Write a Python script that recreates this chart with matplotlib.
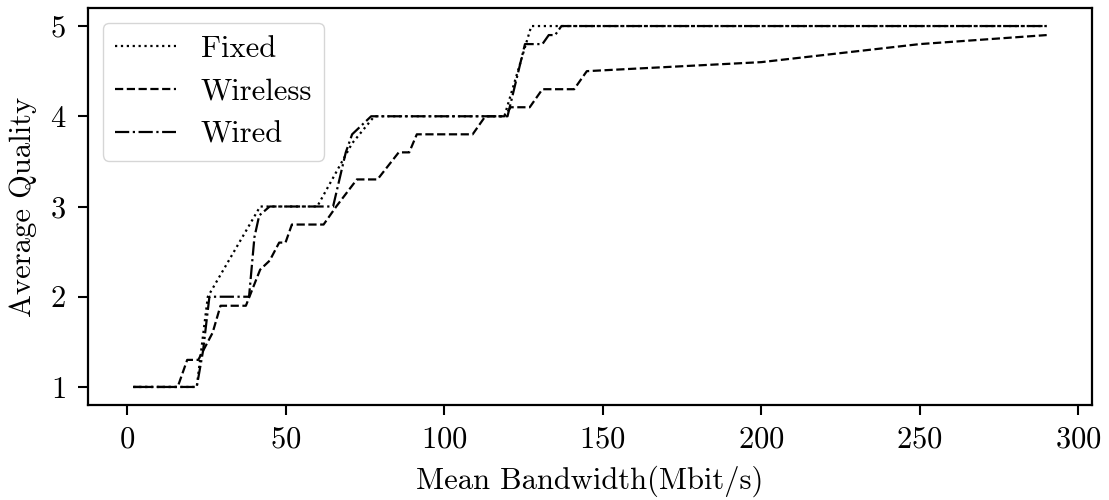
import matplotlib
matplotlib.use("Agg")
import matplotlib.pyplot as plt

plt.rcParams['font.family'] = ['cmr10', 'DejaVu Serif']
plt.rcParams['mathtext.fontset'] = 'cm'
plt.rcParams['axes.formatter.use_mathtext'] = True
plt.rcParams['font.size'] = 22

# Fixed access
fixed_x = [2, 22, 25.5, 42, 60, 71, 78, 119, 127.5, 290]
fixed_y = [1, 1, 2, 3, 3, 3.7, 4, 4, 5, 5]

# Wireless access
wireless_x = [2, 16, 19, 22.5, 27, 29.5, 37.5, 42, 45, 48, 50, 52, 62, 66,
              72.5, 79, 85.7, 89, 91.4, 109, 113, 119, 121, 127, 131, 141,
              145, 200, 250, 290]
wireless_y = [1, 1, 1.3, 1.3, 1.6, 1.9, 1.9, 2.3, 2.4, 2.6, 2.6, 2.8, 2.8, 3.0,
              3.3, 3.3, 3.6, 3.6, 3.8, 3.8, 4.0, 4.0, 4.1, 4.1, 4.3, 4.3,
              4.5, 4.6, 4.8, 4.9]

# Wired access
wired_x = [2, 22, 24, 26, 38.5, 40.2, 41.7, 45, 65, 69, 71, 77, 120, 125.5,
           131, 133, 135, 137, 290]
wired_y = [1, 1, 1.4, 2, 2, 2.66, 2.9, 3, 3, 3.6, 3.8, 4, 4, 4.8,
           4.8, 4.9, 4.9, 5, 5]

fig = plt.figure(figsize=(11.09, 5.0), dpi=100)
ax = fig.add_subplot(1, 1, 1)
fig.subplots_adjust(left=0.079, right=0.985, top=0.984, bottom=0.19)

ax.plot(fixed_x, fixed_y, ':', color='black', linewidth=1.6, label='Fixed')
ax.plot(wireless_x, wireless_y, '--', color='black', linewidth=1.6, label='Wireless')
ax.plot(wired_x, wired_y, '-.', color='black', linewidth=1.6, label='Wired')

ax.set_xlabel('Mean Bandwidth(Mbit/s)', labelpad=8)
ax.set_ylabel('Average Quality', labelpad=9)
ax.set_yticks([1, 2, 3, 4, 5])
ax.set_xticks([0, 50, 100, 150, 200, 250, 300])

for s in ax.spines.values():
    s.set_linewidth(1.6)
ax.tick_params(width=1.5, length=7.5, pad=8)

ax.legend(loc='upper left')

fig.savefig('out.png', dpi=100)
